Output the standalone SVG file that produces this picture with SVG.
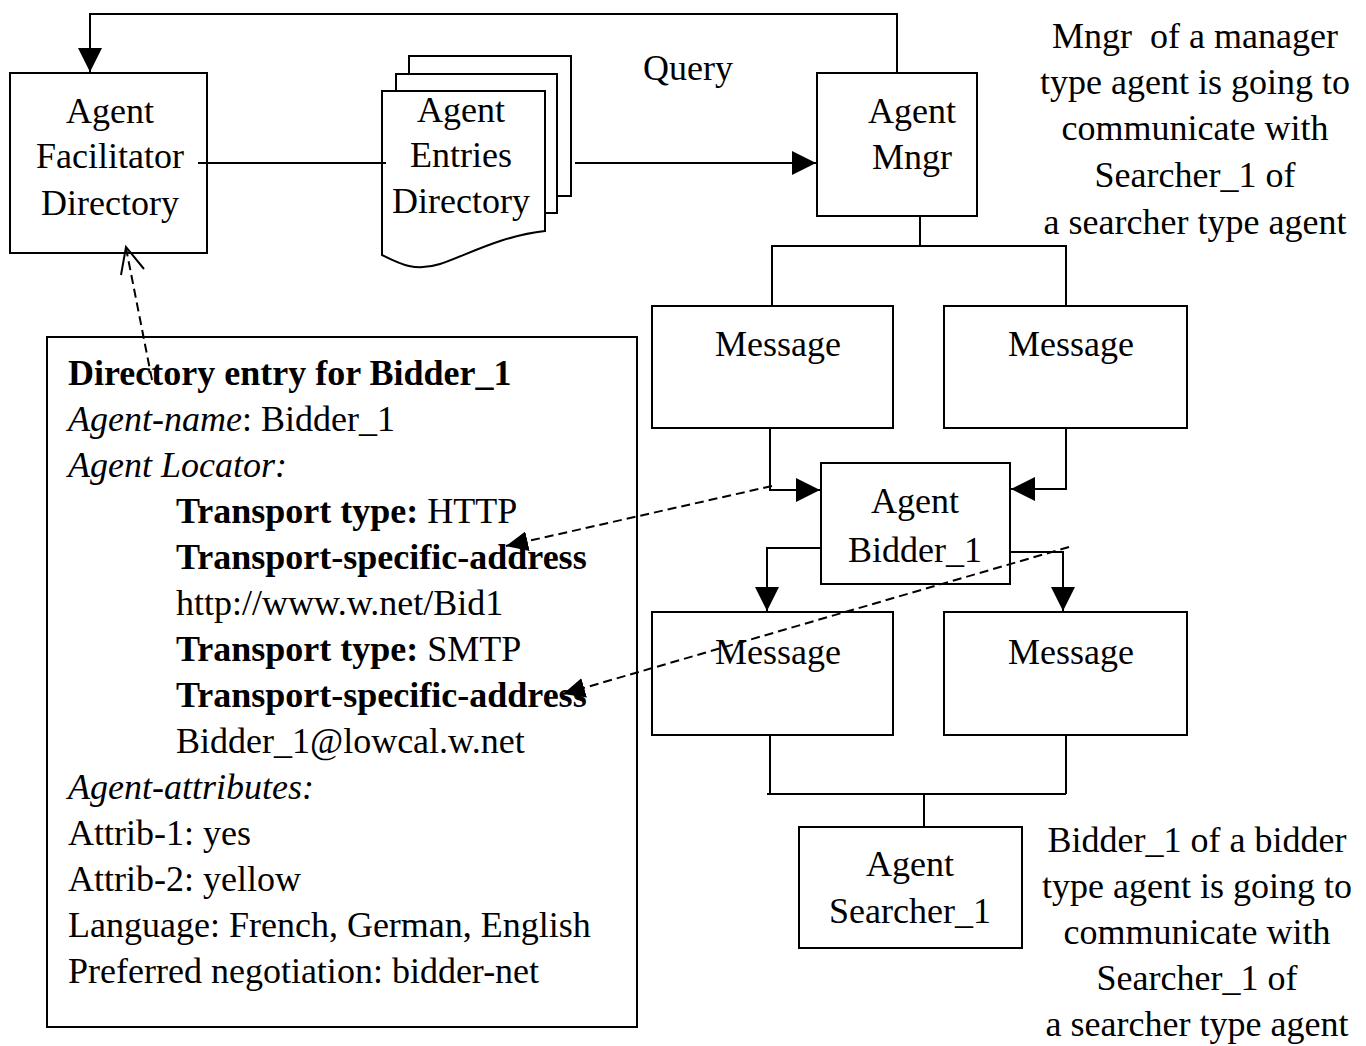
<svg xmlns="http://www.w3.org/2000/svg" width="1366" height="1046" viewBox="0 0 1366 1046">
<style>
text{font-family:"Liberation Serif","Times New Roman",serif;font-size:36px;fill:#000}
.c{text-anchor:middle}
.b{font-weight:bold}
.i{font-style:italic}
.box{fill:none;stroke:#000;stroke-width:2}
.page{fill:#fff;stroke:#000;stroke-width:2}
.ln{fill:none;stroke:#000;stroke-width:2}
.dash{fill:none;stroke:#000;stroke-width:2;stroke-dasharray:9 5}
</style>
<defs>
<marker id="ah" markerUnits="userSpaceOnUse" markerWidth="26" markerHeight="26" refX="24" refY="12" orient="auto">
<path d="M0,0 L24,12 L0,24 Z" fill="#000"/>
</marker>
<marker id="dh" markerUnits="userSpaceOnUse" markerWidth="24" markerHeight="22" refX="22" refY="10" orient="auto">
<path d="M0,0 L22,10 L0,20 Z" fill="#000"/>
</marker>
</defs>
<rect width="1366" height="1046" fill="#fff"/>

<g id="facilitator">
<rect class="box" x="10" y="73" width="197" height="180"/>
<text class="c" x="110" y="123">Agent</text>
<text class="c" x="110" y="168">Facilitator</text>
<text class="c" x="110" y="215">Directory</text>
</g>

<g id="entries">
<rect class="page" x="409" y="56" width="162" height="140"/>
<rect class="page" x="396" y="74" width="161" height="139"/>
<path class="page" d="M382,255 V91 H545 V231 C500,236 465,256 440,264 C415,272 400,264 382,255 Z"/>
<text class="c" x="461" y="122">Agent</text>
<text class="c" x="461" y="167">Entries</text>
<text class="c" x="461" y="213">Directory</text>
</g>

<g id="query-label">
<text class="c" x="688" y="80">Query</text>
</g>

<g id="mngr">
<rect class="box" x="817" y="73" width="160" height="143"/>
<text class="c" x="912" y="123">Agent</text>
<text class="c" x="912" y="169">Mngr</text>
</g>

<g id="msg1">
<rect class="box" x="652" y="306" width="241" height="122"/>
<text class="c" x="778" y="356">Message</text>
</g>
<g id="msg2">
<rect class="box" x="944" y="306" width="243" height="122"/>
<text class="c" x="1071" y="356">Message</text>
</g>

<g id="bidder">
<rect class="box" x="821" y="463" width="189" height="121"/>
<text class="c" x="915" y="513">Agent</text>
<text class="c" x="915" y="562">Bidder_1</text>
</g>

<g id="msg3">
<rect class="box" x="652" y="612" width="241" height="123"/>
<text class="c" x="778" y="664">Message</text>
</g>
<g id="msg4">
<rect class="box" x="944" y="612" width="243" height="123"/>
<text class="c" x="1071" y="664">Message</text>
</g>

<g id="searcher">
<rect class="box" x="799" y="827" width="223" height="121"/>
<text class="c" x="910" y="876">Agent</text>
<text class="c" x="910" y="923">Searcher_1</text>
</g>

<g id="entry">
<rect class="box" x="47" y="337" width="590" height="690"/>
<text x="68" y="385" class="b">Directory entry for Bidder_1</text>
<text x="68" y="431"><tspan class="i">Agent-name</tspan>: Bidder_1</text>
<text x="68" y="477" class="i">Agent Locator:</text>
<text x="176" y="523"><tspan class="b">Transport type:</tspan> HTTP</text>
<text x="176" y="569" class="b">Transport-specific-address</text>
<text x="176" y="615">http://www.w.net/Bid1</text>
<text x="176" y="661"><tspan class="b">Transport type:</tspan> SMTP</text>
<text x="176" y="707" class="b">Transport-specific-address</text>
<text x="176" y="753">Bidder_1@lowcal.w.net</text>
<text x="68" y="799" class="i">Agent-attributes:</text>
<text x="68" y="845">Attrib-1: yes</text>
<text x="68" y="891">Attrib-2: yellow</text>
<text x="68" y="937">Language: French, German, English</text>
<text x="68" y="983">Preferred negotiation: bidder-net</text>
</g>

<g id="note-top">
<text class="c" x="1195" y="48" xml:space="preserve">Mngr  of a manager</text>
<text class="c" x="1195" y="94">type agent is going to</text>
<text class="c" x="1195" y="140">communicate with</text>
<text class="c" x="1195" y="187">Searcher_1 of</text>
<text class="c" x="1195" y="234">a searcher type agent</text>
</g>

<g id="note-bottom">
<text class="c" x="1197" y="852">Bidder_1 of a bidder</text>
<text class="c" x="1197" y="898">type agent is going to</text>
<text class="c" x="1197" y="944">communicate with</text>
<text class="c" x="1197" y="990">Searcher_1 of</text>
<text class="c" x="1197" y="1036">a searcher type agent</text>
</g>

<g id="connectors">
<path class="ln" d="M897,73 V14 H90 V72" marker-end="url(#ah)"/>
<path class="ln" d="M198,163 H386"/>
<path class="ln" d="M575,163 H816" marker-end="url(#ah)"/>
<path class="ln" d="M920,216 V246"/>
<path class="ln" d="M772,306 V246 H1066 V306"/>
<path class="ln" d="M770,428 V490 H820" marker-end="url(#ah)"/>
<path class="ln" d="M1066,428 V489 H1011" marker-end="url(#ah)"/>
<path class="ln" d="M821,548 H767 V611" marker-end="url(#ah)"/>
<path class="ln" d="M1010,552 H1063 V611" marker-end="url(#ah)"/>
<path class="ln" d="M770,735 V794 M1066,735 V794 M767,794 H1066 M924,794 V827"/>
<path class="dash" d="M152,380 L126,248"/>
<polyline class="ln" points="121,275 126,247 144,269"/>
<path class="dash" d="M772,486 L506,546" marker-end="url(#dh)"/>
<path class="dash" d="M1069,547 L563,694" marker-end="url(#dh)"/>
</g>
</svg>
